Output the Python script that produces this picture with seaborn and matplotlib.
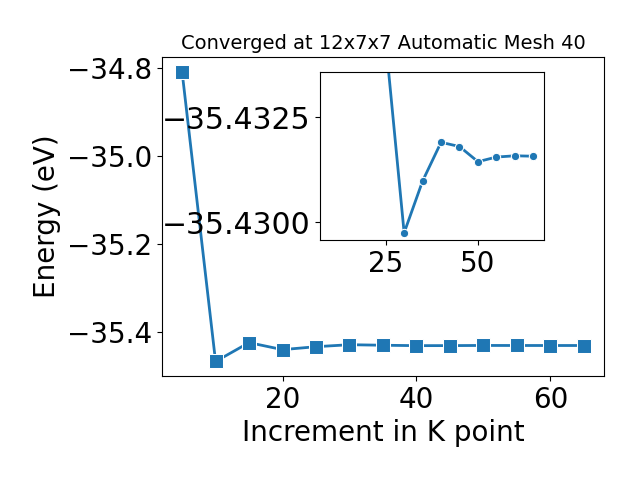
import numpy as np
import pandas as pd
import matplotlib
matplotlib.use('Agg')
import matplotlib.pyplot as plt
import seaborn as sns
from matplotlib.ticker import MultipleLocator

#K point increments and total energies
kpoints = [5, 10, 15, 20, 25, 30, 35, 40, 45, 50, 55, 60, 65]
energy = [-34.8075, -35.468, -35.425, -35.441, -35.4343, -35.42975, -35.43098,
          -35.43190, -35.43180, -35.43144, -35.43155, -35.43158, -35.43157]

df = pd.DataFrame({'Increment in K point': kpoints, 'Energy (eV)': energy})

plt.rcParams['font.size'] = 20

fig = plt.figure(figsize=(6.4, 4.8), dpi=100)
ax = fig.add_axes([0.2531, 0.2167, 0.6906, 0.6643])
sns.lineplot(x='Increment in K point', y='Energy (eV)', data=df, marker='s',
             markersize=10, linewidth=2, color='#1f77b4', ax=ax)
ax.set_title('Converged at 12x7x7 Automatic Mesh 40', fontsize=14)
ax.yaxis.set_major_locator(MultipleLocator(0.2))

#Zoom in on the tail of the curve
inset = fig.add_axes([0.5, 0.5, 0.35, 0.35])
sns.lineplot(x='Increment in K point', y='Energy (eV)', data=df[df['Increment in K point'] >= 20],
             marker='o', markersize=6, linewidth=2, color='#1f77b4', ax=inset)
inset.set_xlim(7.2, 67.9)
inset.set_ylim(-35.42958, -35.43357)
inset.ticklabel_format(axis='y', useOffset=False)
inset.yaxis.set_major_locator(MultipleLocator(0.0025))
inset.xaxis.set_major_locator(MultipleLocator(25))
inset.tick_params(axis='y', labelsize=21.5)
inset.set_xlabel('')
inset.set_ylabel('')

fig.savefig('out.png', dpi=100)
